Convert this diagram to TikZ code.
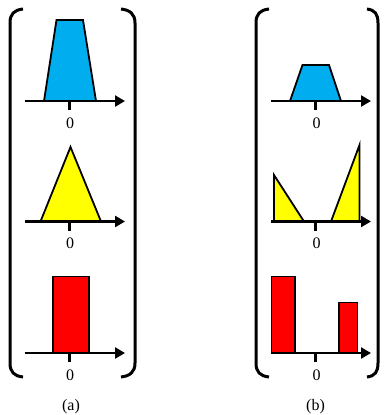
\documentclass[tikz,border=0pt]{standalone}
\usepackage{fontspec}
\setmainfont{Liberation Serif}
\usetikzlibrary{arrows.meta}
\definecolor{cblue}{RGB}{0,174,239}
\definecolor{cyellow}{RGB}{255,255,0}
\definecolor{cred}{RGB}{255,0,0}
\tikzset{
  axisline/.style={line width=2.9pt,-{Triangle[length=10pt,width=11pt]}},
  tickline/.style={line width=2.9pt},
  shapeline/.style={line width=1.8pt,line join=miter,draw=black},
  bracketline/.style={line width=3pt},
  zero/.style={font=\fontsize{16}{16}\selectfont,inner sep=0pt,anchor=center},
  caption/.style={font=\fontsize{16}{16}\selectfont,inner sep=0pt,anchor=center}
}
\begin{document}
\begin{tikzpicture}[x=1pt,y=-1pt]
\useasboundingbox (0,0) rectangle (383,415);
% brackets (a)
\draw[bracketline] (23,9) .. controls (14,10) and (10,14) .. (10,23) -- (10,363) .. controls (10,372) and (14,376) .. (23,377);
\draw[bracketline] (121,9) .. controls (130,10) and (135,14) .. (135,23) -- (135,363) .. controls (135,372) and (130,376) .. (121,377);
% brackets (b)
\draw[bracketline] (269,9) .. controls (260,10) and (256,14) .. (256,23) -- (256,363) .. controls (256,372) and (260,376) .. (269,377);
\draw[bracketline] (367,9) .. controls (375,10) and (378,14) .. (378,23) -- (378,363) .. controls (378,372) and (375,376) .. (367,377);
% shapes (a)
\filldraw[shapeline,fill=cblue] (44,101) -- (56.5,20) -- (83,20) -- (96,101) -- cycle;
\filldraw[shapeline,fill=cyellow] (40.5,221.5) -- (70.5,147) -- (101,221.5) -- cycle;
\filldraw[shapeline,fill=cred] (53,353) -- (53,276.5) -- (89,276.5) -- (89,353) -- cycle;
% shapes (b)
\filldraw[shapeline,fill=cblue] (290,101) -- (302.5,65) -- (329,65) -- (341,101) -- cycle;
\filldraw[shapeline,fill=cyellow] (274,221.5) -- (274,175) -- (304,221.5) -- cycle;
\filldraw[shapeline,fill=cyellow] (331,221.5) -- (359.5,145) -- (359.5,221.5) -- cycle;
\filldraw[shapeline,fill=cred] (271.5,353) -- (271.5,276.5) -- (295,276.5) -- (295,353) -- cycle;
\filldraw[shapeline,fill=cred] (339,353) -- (339,302.5) -- (357.5,302.5) -- (357.5,353) -- cycle;
% axes (a)
\draw[axisline] (24.5,101) -- (125,101);
\draw[axisline] (24.5,221.5) -- (125,221.5);
\draw[axisline] (24.5,353) -- (125,353);
\draw[tickline] (69.5,101) -- (69.5,110);
\draw[tickline] (69.5,221.5) -- (69.5,231);
\draw[tickline] (69.5,353) -- (69.5,362);
% axes (b)
\draw[axisline] (271,101) -- (371,101);
\draw[axisline] (271,221.5) -- (371,221.5);
\draw[axisline] (271,353) -- (371,353);
\draw[tickline] (315.5,101) -- (315.5,110);
\draw[tickline] (315.5,221.5) -- (315.5,231);
\draw[tickline] (315.5,353) -- (315.5,362);
% labels
\node[zero] (a1) at (70,123.5) {0};
\node[zero] (a2) at (70,243.5) {0};
\node[zero] (a3) at (70,375.5) {0};
\node[zero] (b1) at (316.5,123.5) {0};
\node[zero] (b2) at (316.5,243.5) {0};
\node[zero] (b3) at (316.5,375.5) {0};
\node[caption] (capa) at (71,407) {(a)};
\node[caption] (capb) at (315.5,407) {(b)};
\end{tikzpicture}
\end{document}
